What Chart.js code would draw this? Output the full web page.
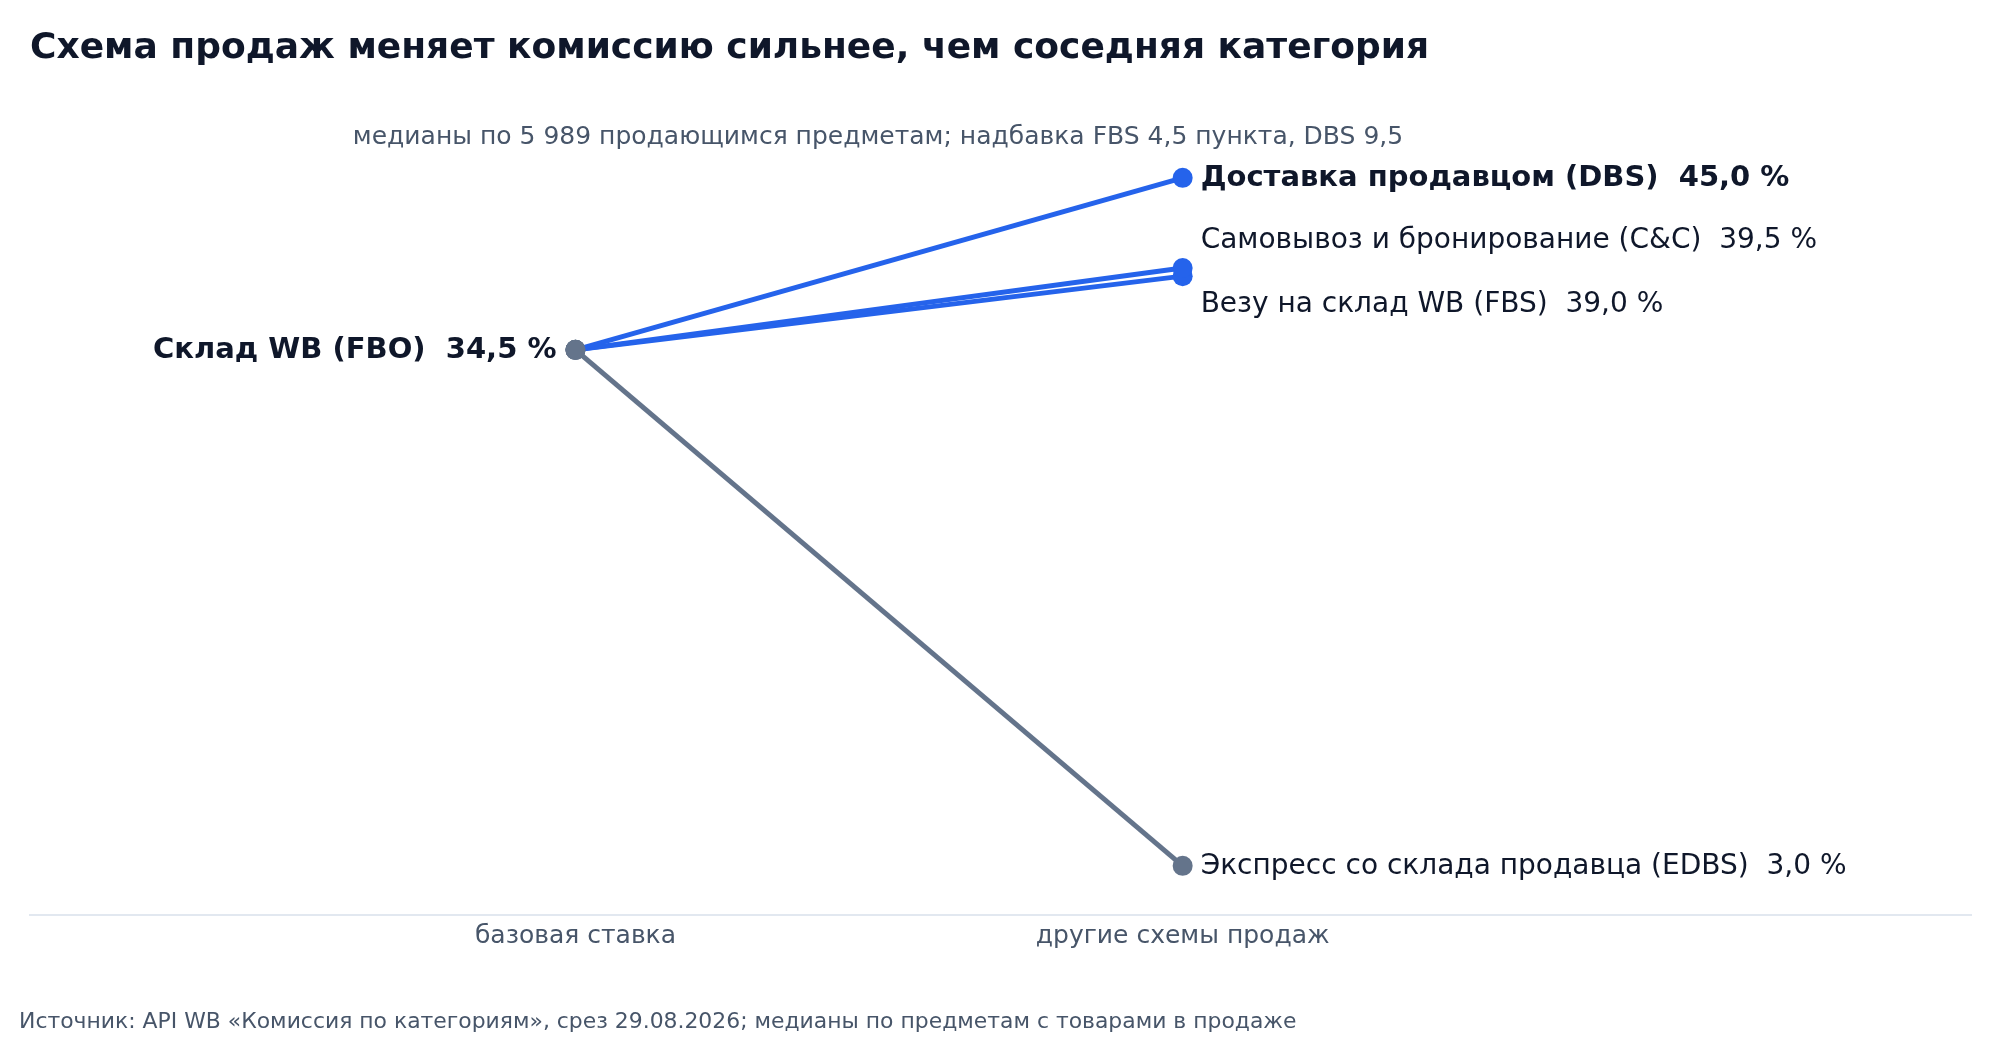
<!DOCTYPE html>
<html lang="ru">
<head>
<meta charset="utf-8">
<title>Схема продаж и комиссия</title>
<script src="https://cdn.jsdelivr.net/npm/chart.js@4.4.1/dist/chart.umd.min.js"></script>
<style>
  html, body { margin: 0; padding: 0; background: #ffffff; }
  body { width: 2000px; height: 1040px; position: relative; overflow: hidden;
         font-family: "DejaVu Sans", sans-serif; }
  #wrap { position: absolute; left: 0; top: 0; width: 2000px; height: 1040px; }
  .txt { position: absolute; white-space: nowrap; line-height: 1; }
  #title { left: 30px; top: 28px; font-size: 36px; font-weight: bold; color: #0f172a; }
  #subtitle { left: 878px; top: 123px; transform: translateX(-50%); font-size: 25px; color: #475569; }
  #source { left: 19px; top: 1010px; font-size: 21.9px; color: #475569; }
</style>
</head>
<body>
<div id="wrap"><canvas id="slopeChart"></canvas></div>
<div class="txt" id="title">Схема продаж меняет комиссию сильнее, чем соседняя категория</div>
<div class="txt" id="subtitle">медианы по 5 989 продающимся предметам; надбавка FBS 4,5 пункта, DBS 9,5</div>
<div class="txt" id="source">Источник: API WB «Комиссия по категориям», срез 29.08.2026; медианы по предметам с товарами в продаже</div>
<script>
// columns of the slope chart
const columnLabels = ["базовая ставка", "другие схемы продаж"];

// base scheme
const baseName = "Склад WB (FBO)";
const baseValue = 34.5;

// other schemes (right column)
const schemeNames = [
  "Доставка продавцом (DBS)",
  "Самовывоз и бронирование (C&C)",
  "Везу на склад WB (FBS)",
  "Экспресс со склада продавца (EDBS)",
];
const schemeValues = [45.0, 39.5, 39.0, 3.0];

// styling per scheme
const schemeColors = ["#2563eb", "#2563eb", "#2563eb", "#64748b"];
const schemeBold = [true, false, false, false];
const labelShift = [1, -27, 29, 1]; // px, to keep close labels apart

const baseColor = "#64748b";
const fmt = (v) => v.toFixed(1).replace(".", ",") + " %";

const datasets = schemeNames.map((name, i) => ({
  label: name,
  data: [
    { x: 0, y: baseValue },
    { x: 1, y: schemeValues[i] },
  ],
  borderColor: schemeColors[i],
  backgroundColor: schemeColors[i],
  pointBackgroundColor: [baseColor, schemeColors[i]],
  pointBorderWidth: 0,
  pointRadius: 10,
  borderWidth: 5,
  tension: 0,
}));

// draws the baseline, column labels and the end labels
const slopeLabels = {
  id: "slopeLabels",
  beforeDatasetsDraw(chart) {
    const { ctx, chartArea, scales } = chart;
    ctx.save();
    ctx.strokeStyle = "#e2e8f0";
    ctx.lineWidth = 2;
    const yBase = scales.y.getPixelForValue(0);
    ctx.beginPath();
    ctx.moveTo(chartArea.left, yBase);
    ctx.lineTo(chartArea.right, yBase);
    ctx.stroke();

    ctx.fillStyle = "#475569";
    ctx.font = '25px "DejaVu Sans"';
    ctx.textAlign = "center";
    ctx.textBaseline = "middle";
    columnLabels.forEach((lab, i) => {
      ctx.fillText(lab, scales.x.getPixelForValue(i), yBase + 21);
    });
    ctx.restore();
  },
  afterDatasetsDraw(chart) {
    const { ctx, scales } = chart;
    ctx.save();
    ctx.fillStyle = "#0f172a";
    ctx.textBaseline = "middle";

    // left label
    ctx.textAlign = "right";
    ctx.font = 'bold 29px "DejaVu Sans"';
    ctx.fillText(
      baseName + "  " + fmt(baseValue),
      scales.x.getPixelForValue(0) - 19,
      scales.y.getPixelForValue(baseValue) + 1
    );

    // right labels
    ctx.textAlign = "left";
    schemeNames.forEach((name, i) => {
      ctx.font = schemeBold[i] ? 'bold 29px "DejaVu Sans"' : '28px "DejaVu Sans"';
      ctx.fillText(
        name + "  " + fmt(schemeValues[i]),
        scales.x.getPixelForValue(1) + 18,
        scales.y.getPixelForValue(schemeValues[i]) + labelShift[i]
      );
    });
    ctx.restore();
  },
};

const ctx = document.getElementById("slopeChart").getContext("2d");
new Chart(ctx, {
  type: "line",
  data: { datasets },
  options: {
    responsive: true,
    maintainAspectRatio: false,
    animation: false,
    events: [],
    layout: { padding: { left: 29, right: 28, top: 141, bottom: 125 } },
    scales: {
      x: { type: "linear", min: -0.9, max: 2.3, display: false },
      y: { min: 0, max: 47.25, display: false },
    },
    plugins: {
      legend: { display: false },
      tooltip: { enabled: false },
    },
    clip: false,
  },
  plugins: [slopeLabels],
});
</script>
</body>
</html>
